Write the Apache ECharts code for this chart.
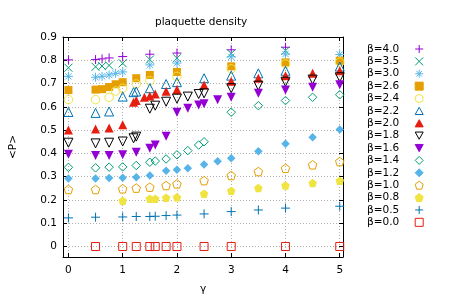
<!DOCTYPE html>
<html>
<head>
<meta charset="utf-8">
<script src="https://cdn.jsdelivr.net/npm/echarts@6/dist/echarts.min.js"></script>
<style>html,body{margin:0;padding:0;background:#fff}#c{width:451px;height:300px}</style>
</head>
<body>
<div id="c"></div>
<script>
// ---- data (gamma, <P>) ----
const seriesNames = ['β=4.0','β=3.5','β=3.0','β=2.6','β=2.4','β=2.2','β=2.0','β=1.8','β=1.6','β=1.4','β=1.2','β=1.0','β=0.8','β=0.5','β=0.0'];
const b40 = [[0,0.802],[0.5,0.803],[0.62,0.806],[0.75,0.81],[1,0.816],[1.5,0.826],[2,0.831],[3,0.845],[4,0.856]];
const b35 = [[0,0.768],[0.5,0.772],[0.62,0.775],[0.75,0.778],[1,0.787],[1.5,0.803],[2,0.809],[3,0.829],[4,0.841]];
const b30 = [[0,0.731],[0.5,0.727],[0.62,0.731],[0.75,0.737],[0.87,0.744],[1,0.75],[1.5,0.78],[2,0.788],[3,0.815],[4,0.827],[5,0.825]];
const b26 = [[0,0.672],[0.5,0.674],[0.62,0.676],[0.75,0.685],[0.87,0.697],[1,0.706],[1.25,0.723],[1.5,0.737],[2,0.75],[3,0.774],[4,0.791],[5,0.798]];
const b24 = [[0,0.631],[0.5,0.631],[0.75,0.641],[0.87,0.668],[1,0.68],[1.25,0.698],[1.5,0.712],[2,0.731],[3,0.763],[4,0.784],[5,0.792]];
const b22 = [[0,0.578],[0.5,0.574],[0.75,0.58],[1,0.644],[1.2,0.663],[1.25,0.666],[1.5,0.68],[1.8,0.698],[2,0.706],[2.5,0.723],[3,0.734],[3.5,0.744],[4,0.755],[5,0.773]];
const b20 = [[0,0.501],[0.5,0.505],[0.75,0.509],[1,0.523],[1.2,0.62],[1.25,0.627],[1.4,0.641],[1.5,0.647],[1.6,0.655],[1.8,0.667],[2,0.674],[2.5,0.694],[3,0.71],[3.5,0.723],[4,0.734],[4.5,0.744],[5,0.755]];
const b18 = [[0,0.446],[0.5,0.443],[0.75,0.446],[1,0.451],[1.2,0.465],[1.25,0.472],[1.5,0.592],[1.6,0.605],[1.8,0.622],[2,0.635],[2.2,0.644],[2.4,0.655],[2.5,0.658],[3,0.68],[3.5,0.691],[4,0.708],[4.5,0.717],[5,0.727]];
const b16 = [[0,0.396],[0.5,0.391],[0.75,0.391],[1,0.394],[1.25,0.405],[1.5,0.422],[1.6,0.436],[1.8,0.474],[2,0.577],[2.2,0.594],[2.4,0.608],[2.5,0.613],[2.75,0.63],[3,0.641],[3.5,0.658],[4,0.672],[4.5,0.684],[5,0.695]];
const b14 = [[0,0.34],[0.5,0.338],[0.75,0.341],[1,0.342],[1.25,0.348],[1.5,0.362],[1.6,0.367],[1.8,0.376],[2,0.394],[2.2,0.412],[2.4,0.436],[2.5,0.45],[3,0.577],[3.5,0.605],[4,0.627],[4.5,0.641],[5,0.652]];
const b12 = [[0,0.292],[0.5,0.292],[0.75,0.294],[1,0.295],[1.25,0.298],[1.5,0.305],[1.8,0.326],[2,0.33],[2.2,0.336],[2.5,0.352],[2.75,0.366],[3,0.379],[3.5,0.409],[4,0.441],[4.5,0.469],[5,0.503]];
const b10 = [[0,0.245],[0.5,0.245],[1,0.248],[1.25,0.251],[1.5,0.255],[1.8,0.262],[2,0.269],[2.5,0.283],[3,0.305],[3.5,0.322],[4,0.336],[4.5,0.351],[5,0.365]];
const b08 = [[1,0.197],[1.5,0.205],[1.6,0.205],[1.8,0.209],[2,0.212],[2.5,0.227],[3,0.24],[3.5,0.251],[4,0.262],[4.5,0.273],[5,0.282]];
const b05 = [[0,0.123],[0.5,0.126],[1,0.127],[1.25,0.129],[1.5,0.129],[1.6,0.13],[1.8,0.133],[2,0.135],[2.5,0.14],[3,0.15],[3.5,0.157],[4,0.165],[5,0.173]];
const b00 = [[0.5,0],[1,0],[1.25,0],[1.5,0],[1.6,0],[1.8,0],[2,0],[2.5,0],[3,0],[4,0],[5,0]];
const allData = [b40,b35,b30,b26,b24,b22,b20,b18,b16,b14,b12,b10,b08,b05,b00];

// ---- styles ----
const FONT = 'DejaVu Sans';
const SYM = {
  plus: 'path://M0,5L10,5M5,0L5,10',
  cross: 'path://M0,0L10,10M10,0L0,10',
  star: 'path://M0,5L10,5M5,0L5,10M1.5,1.5L8.5,8.5M8.5,1.5L1.5,8.5',
  square: 'path://M0,0L10,0L10,10L0,10Z',
  circle: 'circle',
  triUp: 'path://M5,0L10,9L0,9Z',
  triDown: 'path://M0,0L10,0L5,9Z',
  diamond: 'path://M5,0L10,5L5,10L0,5Z',
  pent: 'path://M5,0L10,3.8L8.1,10L1.9,10L0,3.8Z'
};
// [symbol, colour, filled, size]
const styles = [
  [SYM.plus,'#9400d3',false,9],
  [SYM.cross,'#009e73',false,8],
  [SYM.star,'#56b4e9',false,9],
  [SYM.square,'#e69f00',true,8],
  [SYM.circle,'#f0e442',false,8.5],
  [SYM.triUp,'#0072b2',false,9],
  [SYM.triUp,'#e51e10',true,9],
  [SYM.triDown,'#000000',false,9],
  [SYM.triDown,'#9400d3',true,9],
  [SYM.diamond,'#009e73',false,8.5],
  [SYM.diamond,'#56b4e9',true,8.5],
  [SYM.pent,'#e69f00',false,8.5],
  [SYM.pent,'#f0e442',true,8.5],
  [SYM.plus,'#0072b2',false,9],
  [SYM.square,'#e51e10',false,8]
];

const series = seriesNames.map((n, i) => {
  const [sym, col, filled, size] = styles[i];
  return {
    type: 'scatter', name: n, data: allData[i],
    symbol: sym, symbolSize: size, xAxisIndex: 0, yAxisIndex: 0,
    itemStyle: { color: filled ? col : 'rgba(0,0,0,0)', borderColor: col, borderWidth: filled ? 0 : 1, opacity: 1 },
    emphasis: { disabled: true }
  };
});

const gridLine = { show: true, lineStyle: { color: '#b0b0b0', type: [1, 2], width: 1 } };
const axisBase = {
  axisLine: { show: true, onZero: false, lineStyle: { color: '#000', width: 1 } },
  axisTick: { show: true, inside: true, length: 4, lineStyle: { color: '#000' } }
};
const labelStyle = { fontFamily: FONT, fontSize: 10.5, color: '#000' };

const chart = echarts.init(document.getElementById('c'), null, { renderer: 'canvas' });
chart.setOption({
  animation: false,
  backgroundColor: '#fff',
  title: { text: 'plaquette density', left: 150, top: 12, textStyle: { fontFamily: FONT, fontSize: 10.5, fontWeight: 'normal', color: '#000' } },
  grid: { left: 57, right: 108, top: 37, bottom: 42, containLabel: false },
  legend: {
    orient: 'vertical', left: 362, top: 38, align: 'right',
    itemWidth: 8, itemHeight: 8, itemGap: 0.38, selectedMode: false,
    textStyle: { fontFamily: FONT, fontSize: 10.5, color: '#000', lineHeight: 12, padding: [0, 11, 0, 0] },
    itemStyle: { borderWidth: 1 },
    data: seriesNames
  },
  xAxis: [
    Object.assign({ type: 'value', min: -0.1, max: 5.06, splitNumber: 5, position: 'bottom',
      name: 'γ', nameLocation: 'middle', nameGap: 27, nameTextStyle: labelStyle,
      axisLabel: Object.assign({ margin: 8, showMinLabel: false, showMaxLabel: false }, labelStyle),
      splitLine: gridLine }, axisBase),
    Object.assign({ type: 'value', min: -0.1, max: 5.06, splitNumber: 5, position: 'top',
      axisLabel: { show: false }, splitLine: { show: false } }, axisBase)
  ],
  yAxis: [
    Object.assign({ type: 'value', min: -0.045, max: 0.9, splitNumber: 10, position: 'left',
      name: '<P>', nameLocation: 'middle', nameGap: 44, nameRotate: 90, nameTextStyle: labelStyle,
      axisLabel: Object.assign({ margin: 6, showMinLabel: false, formatter: v => (Math.abs(v) < 1e-9 ? '0' : String(Math.round(v * 10) / 10)) }, labelStyle),
      splitLine: gridLine }, axisBase),
    Object.assign({ type: 'value', min: -0.045, max: 0.9, splitNumber: 10, position: 'right',
      axisLabel: { show: false }, splitLine: { show: false } }, axisBase)
  ],
  series: series
});
</script>
</body>
</html>
